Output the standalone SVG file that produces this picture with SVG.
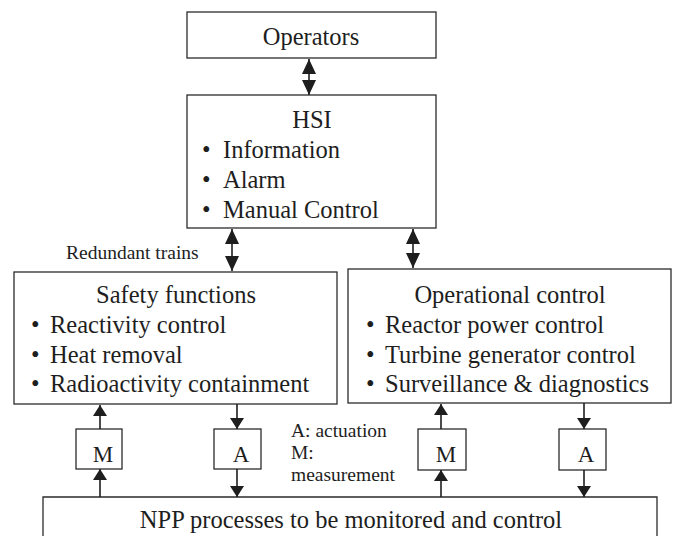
<svg xmlns="http://www.w3.org/2000/svg" width="678" height="536" viewBox="0 0 678 536">
<style>
  .box{fill:#fff;stroke:#2b2b2b;stroke-width:1.3}
  .t{font-family:"Liberation Serif","Times New Roman",serif;fill:#1e1e1e}
  .big{font-size:24.5px}
  .sm{font-size:19.5px}
  .mid{text-anchor:middle}
  .ln{stroke:#1e1e1e;stroke-width:1.6;fill:none}
</style>
<defs>
  <marker id="hb" viewBox="0 0 15 14" refX="15" refY="7" markerWidth="15" markerHeight="14" markerUnits="userSpaceOnUse" orient="auto-start-reverse">
    <path d="M0,0 L15,7 L0,14 z" fill="#1e1e1e"/>
  </marker>
  <marker id="hs" viewBox="0 0 11 14" refX="11" refY="7" markerWidth="11" markerHeight="14" markerUnits="userSpaceOnUse" orient="auto">
    <path d="M0,0 L11,7 L0,14 z" fill="#1e1e1e"/>
  </marker>
</defs>

<g id="operators">
  <rect class="box" x="187" y="12" width="249" height="46"/>
  <text class="t big mid" x="311" y="45">Operators</text>
</g>

<g id="hsi">
  <rect class="box" x="187" y="95" width="249" height="133"/>
  <text class="t big mid" x="312" y="128">HSI</text>
  <text class="t big" x="202" y="158">•</text><text class="t big" x="223" y="158">Information</text>
  <text class="t big" x="202" y="188">•</text><text class="t big" x="223" y="188">Alarm</text>
  <text class="t big" x="202" y="218">•</text><text class="t big" x="223" y="218">Manual Control</text>
</g>

<g id="redundant-label">
  <text class="t sm" x="66" y="259">Redundant trains</text>
</g>

<g id="safety">
  <rect class="box" x="14" y="272" width="323" height="132"/>
  <text class="t big mid" x="176" y="303">Safety functions</text>
  <text class="t big" x="31" y="333">•</text><text class="t big" x="50" y="333">Reactivity control</text>
  <text class="t big" x="31" y="363">•</text><text class="t big" x="50" y="363">Heat removal</text>
  <text class="t big" x="31" y="392">•</text><text class="t big" x="50" y="392">Radioactivity containment</text>
</g>

<g id="operational">
  <rect class="box" x="348" y="269" width="323" height="134"/>
  <text class="t big mid" x="510" y="303">Operational control</text>
  <text class="t big" x="366" y="333">•</text><text class="t big" x="385" y="333">Reactor power control</text>
  <text class="t big" x="366" y="363">•</text><text class="t big" x="385" y="363">Turbine generator control</text>
  <text class="t big" x="366" y="392">•</text><text class="t big" x="385" y="392">Surveillance &amp; diagnostics</text>
</g>

<g id="m1">
  <rect class="box" x="76" y="429" width="46" height="40"/>
  <text class="t mid" style="font-size:23px" x="103" y="462">M</text>
</g>
<g id="a1">
  <rect class="box" x="214" y="429" width="47" height="40"/>
  <text class="t mid" style="font-size:23px" x="241" y="462">A</text>
</g>
<g id="m2">
  <rect class="box" x="418" y="429" width="48" height="41"/>
  <text class="t mid" style="font-size:23px" x="446" y="462">M</text>
</g>
<g id="a2">
  <rect class="box" x="559" y="429" width="47" height="41"/>
  <text class="t mid" style="font-size:23px" x="586" y="462">A</text>
</g>

<g id="legend">
  <text class="t sm" x="291" y="437">A: actuation</text>
  <text class="t sm" x="291" y="459">M:</text>
  <text class="t sm" x="291" y="481">measurement</text>
</g>

<g id="npp">
  <path class="box" d="M43,540 L43,497 L657,497 L657,540"/>
  <text class="t big mid" x="351" y="528">NPP processes to be monitored and control</text>
</g>

<g id="connectors">
  <line class="ln" x1="309" y1="59" x2="309" y2="95" marker-start="url(#hb)" marker-end="url(#hb)"/>
  <line class="ln" x1="232" y1="229" x2="232" y2="271" marker-start="url(#hb)" marker-end="url(#hb)"/>
  <line class="ln" x1="413" y1="229" x2="413" y2="268" marker-start="url(#hb)" marker-end="url(#hb)"/>

  <line class="ln" x1="100" y1="429" x2="100" y2="405" marker-end="url(#hs)"/>
  <line class="ln" x1="100" y1="497" x2="100" y2="469" marker-end="url(#hs)"/>
  <line class="ln" x1="237" y1="404" x2="237" y2="429" marker-end="url(#hs)"/>
  <line class="ln" x1="237" y1="469" x2="237" y2="497" marker-end="url(#hs)"/>

  <line class="ln" x1="441" y1="429" x2="441" y2="404" marker-end="url(#hs)"/>
  <line class="ln" x1="441" y1="497" x2="441" y2="470" marker-end="url(#hs)"/>
  <line class="ln" x1="584" y1="403" x2="584" y2="429" marker-end="url(#hs)"/>
  <line class="ln" x1="584" y1="470" x2="584" y2="497" marker-end="url(#hs)"/>
</g>
</svg>
